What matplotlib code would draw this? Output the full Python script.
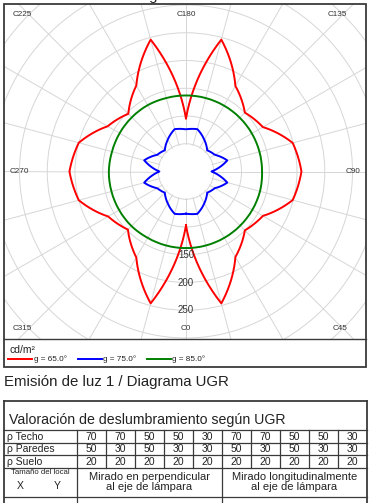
import numpy as np
import matplotlib
matplotlib.use("Agg")
import matplotlib.pyplot as plt
from matplotlib.patches import Rectangle

plt.rcParams["font.family"] = ["Liberation Sans", "DejaVu Sans"]

W, H = 372, 503

# luminance (cd/m²) per C-plane, one list per gamma angle
c_planes = np.arange(0, 360, 15)
lum_g65 = [97, 246, 178, 150, 160, 199, 208, 199, 160, 150, 178, 246,
           95, 246, 179, 147, 163, 200, 210, 200, 162, 148, 179, 246]
lum_g75 = [76, 79, 66, 54, 60, 77, 46, 77, 60, 54, 66, 79,
           76, 79, 66, 54, 60, 78, 48, 78, 60, 54, 66, 79]
lum_g85 = [138, 138, 138, 138, 138, 138, 137, 137, 137, 137, 137, 137,
           137, 137, 138, 138, 138, 138, 139, 139, 139, 139, 138, 138]
gamma_labels = ["g = 65.0°", "g = 75.0°", "g = 85.0°"]
gamma_colors = ["#ff0000", "#0000ff", "#008000"]
radial_labels = [150, 200, 250]

# UGR table
rho_techo = [70, 70, 50, 50, 30, 70, 70, 50, 50, 30]
rho_paredes = [50, 30, 50, 30, 30, 50, 30, 50, 30, 30]
rho_suelo = [20, 20, 20, 20, 20, 20, 20, 20, 20, 20]

TXT = "#222222"
EDGE = "#3a3a3a"

fig = plt.figure(figsize=(W / 100, H / 100), dpi=100)

# overlay in pixel coords (y down) for frames, labels and the table
ov = fig.add_axes([0, 0, 1, 1], zorder=2)
ov.set_xlim(0, W)
ov.set_ylim(H, 0)
ov.axis("off")

# --- polar luminance diagram ---
CX, CY = 186, 171.5
SCALE = 0.555  # px per cd/m²
RMAX = 450
rpx = RMAX * SCALE
ax = fig.add_axes([(CX - rpx) / W, 1 - (CY + rpx) / H, 2 * rpx / W, 2 * rpx / H],
                  projection="polar", zorder=1)
ax.set_theta_zero_location("S")
ax.set_theta_direction(1)
ax.set_ylim(0, RMAX)
ax.set_xticks(np.deg2rad(np.arange(0, 360, 15)))
ax.set_yticks(np.arange(50, RMAX + 1, 50))
ax.set_xticklabels([])
ax.set_yticklabels([])
ax.tick_params(length=0)
ax.grid(True, color="#d6d6d6", lw=0.7)
ax.spines["polar"].set_visible(False)
ax.patch.set_visible(False)

clip = Rectangle((4, 4), 362, 335, transform=ov.transData)
for gl in list(ax.xaxis.get_gridlines()) + list(ax.yaxis.get_gridlines()):
    gl.set_clip_path(clip)

# spokes start at the 50 ring
ax.bar(0, 48, width=2 * np.pi, bottom=0, color="white", lw=0, zorder=1.8)

theta = np.deg2rad(np.append(c_planes, 360))
for vals, color in zip([lum_g65, lum_g75, lum_g85], gamma_colors):
    r = np.append(vals, vals[0])
    ln, = ax.plot(theta, r, color=color, lw=1.4, zorder=2)
    ln.get_path()._interpolation_steps = 40  # draw segments along the polar grid
    ln.set_clip_path(clip)

for v in radial_labels:
    ax.text(0, v, str(v), ha="center", va="center", fontsize=7, color="#333333", zorder=4)

plane_text = [("C225", 22, 14), ("C180", 186, 14), ("C135", 337.5, 14),
              ("C270", 19.5, 171.5), ("C90", 353.5, 171.5),
              ("C315", 22.5, 329), ("C0", 185.5, 329), ("C45", 340, 329)]
for s, x, y in plane_text:
    ov.text(x, y, s, ha="center", va="center", fontsize=5.9, color="#333333")

# frame + legend strip
ov.add_patch(Rectangle((4, 4), 362, 363, fill=False, ec=EDGE, lw=1.3))
ov.plot([4, 366], [339, 339], color=EDGE, lw=1.0)
ov.text(9, 353, "cd/m²", fontsize=7.5, color=TXT, va="baseline")
for i, (lab, color) in enumerate(zip(gamma_labels, gamma_colors)):
    x0 = 8 + i * 69.5
    ov.plot([x0, x0 + 24], [359, 359], color=color, lw=1.4)
    ov.text(x0 + 25.5, 359.5, lab, fontsize=5.9, color=TXT, va="center")

# titles
ov.text(4, -0.5, "Emisión de luz 1 / Diagrama de densidad lumínica", fontsize=10.8,
        color=TXT, va="baseline", clip_on=False)
ov.text(4, 386, "Emisión de luz 1 / Diagrama UGR", fontsize=10.8, color=TXT, va="baseline")

# --- UGR table ---
TL, TR, TT = 4, 367, 401
row_y = [430, 442.5, 455, 467.5, 497]
col_x = [77 + 29 * i for i in range(11)]
ov.plot([TL, TR], [TT, TT], color=EDGE, lw=1.3)
ov.plot([TL, TL], [TT, H], color=EDGE, lw=1.3)
ov.plot([TR, TR], [TT, H], color=EDGE, lw=1.3)
for y in row_y:
    ov.plot([TL, TR], [y, y], color=EDGE, lw=0.9)
for x in col_x[:-1]:
    ov.plot([x, x], [row_y[0], row_y[3]], color=EDGE, lw=0.9)
for x in (col_x[0], col_x[5]):
    ov.plot([x, x], [row_y[3], H], color=EDGE, lw=0.9)

ov.text(9, 424, "Valoración de deslumbramiento según UGR", fontsize=10.2,
        color=TXT, va="baseline")
for j, (name, vals) in enumerate([("ρ Techo", rho_techo), ("ρ Paredes", rho_paredes),
                                  ("ρ Suelo", rho_suelo)]):
    yc = (row_y[j] + row_y[j + 1]) / 2 + 0.5
    ov.text(7, yc, name, fontsize=7.5, color=TXT, va="center")
    for i, v in enumerate(vals):
        ov.text((col_x[i] + col_x[i + 1]) / 2, yc, str(v), fontsize=7.5, color=TXT,
                ha="center", va="center")

ov.text(40.5, 473, "Tamaño del local", fontsize=5.6, color=TXT, ha="center", va="center")
ov.text(20, 486, "X", fontsize=7.5, color=TXT, ha="center", va="center")
ov.text(57, 486, "Y", fontsize=7.5, color=TXT, ha="center", va="center")
ov.text((col_x[0] + col_x[5]) / 2, 482, "Mirado en perpendicular\nal eje de lámpara",
        fontsize=8, color=TXT, ha="center", va="center", linespacing=1.0)
ov.text((col_x[5] + col_x[10]) / 2, 482, "Mirado longitudinalmente\nal eje de lámpara",
        fontsize=8, color=TXT, ha="center", va="center", linespacing=1.0)

fig.savefig("out.png", dpi=100)
